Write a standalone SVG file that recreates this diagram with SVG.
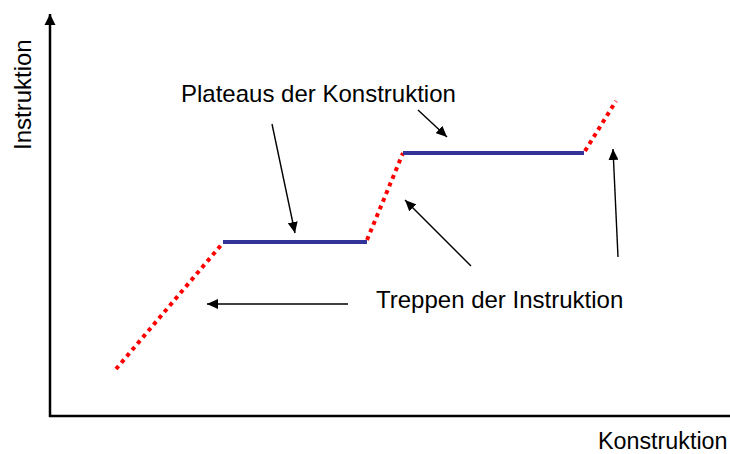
<svg xmlns="http://www.w3.org/2000/svg" width="730" height="454" viewBox="0 0 730 454">
<style>
.lbl{font-family:"Liberation Sans",Arial,sans-serif;font-size:24px;fill:#000}
.axis{stroke:#000;stroke-width:2.5;fill:none}
.arr{stroke:#000;stroke-width:1.4;fill:none}
.plat{stroke:#333399;stroke-width:4;fill:none}
.step{stroke:#ff0000;stroke-width:4;stroke-dasharray:4 4.3;fill:none}
</style>
<defs>
<marker id="ah" markerUnits="userSpaceOnUse" markerWidth="12" markerHeight="10" refX="11" refY="5" orient="auto">
<path d="M0,0 L11,5 L0,10 Z" fill="#000"/>
</marker>
<marker id="axh" markerUnits="userSpaceOnUse" markerWidth="12" markerHeight="12" refX="11" refY="6" orient="auto">
<path d="M0,0.5 L11,6 L0,11.5 Z" fill="#000"/>
</marker>
</defs>
<g id="axes">
<path class="axis" d="M50,417 L50,14" marker-end="url(#axh)"/>
<path class="axis" d="M49,416 L730,416"/>
</g>
<g id="curve">
<path class="step" d="M116,369 L222,244"/>
<path class="plat" d="M223,242 L367,242"/>
<path class="step" d="M367,240 L403,153"/>
<path class="plat" d="M403,153 L584,153"/>
<path class="step" d="M585,151 L616,101"/>
</g>
<g id="connectors">
<path class="arr" d="M272,124 L295,233" marker-end="url(#ah)"/>
<path class="arr" d="M418,110 L447,137" marker-end="url(#ah)"/>
<path class="arr" d="M471,266 L405,200" marker-end="url(#ah)"/>
<path class="arr" d="M618,257 L613,149" marker-end="url(#ah)"/>
<path class="arr" d="M348,304 L207,304" marker-end="url(#ah)"/>
</g>
<g id="labels">
<text class="lbl" x="181" y="102">Plateaus der Konstruktion</text>
<text class="lbl" x="376" y="308">Treppen der Instruktion</text>
<text class="lbl" x="598" y="449" style="font-size:23.3px">Konstruktion</text>
<text class="lbl" transform="translate(31,150) rotate(-90)">Instruktion</text>
</g>
</svg>
